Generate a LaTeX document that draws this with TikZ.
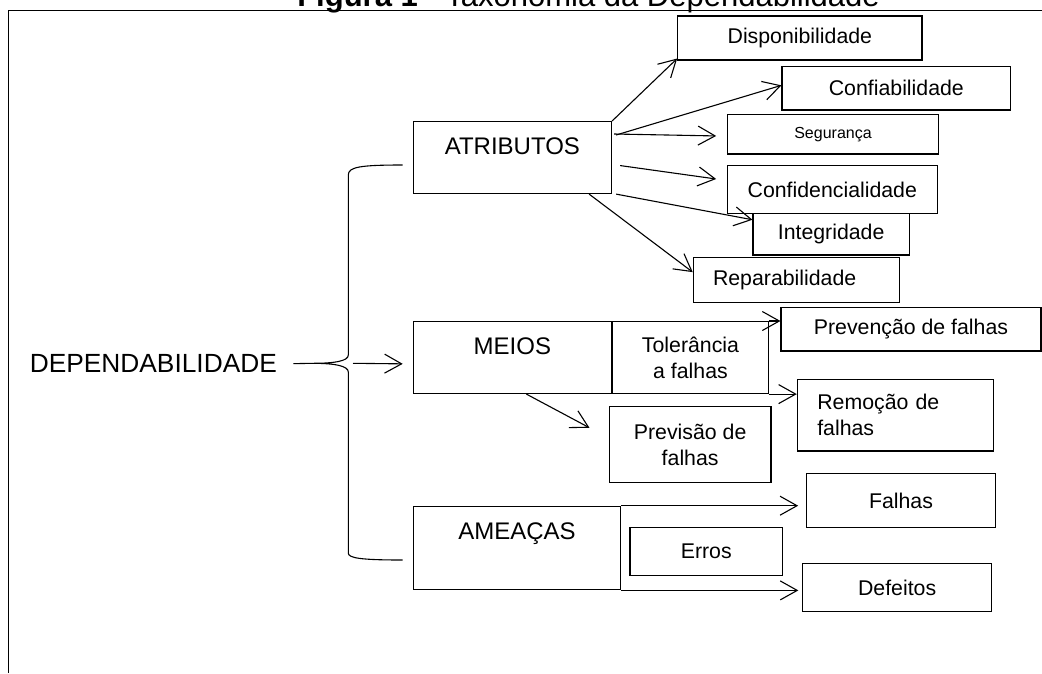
\documentclass[tikz,border=0pt]{standalone}
\usepackage{fontspec}
\setmainfont{Liberation Sans}
\usetikzlibrary{arrows.meta,positioning}

\begin{document}
\begin{tikzpicture}[
    x=1pt, y=-1pt,
    >={Straight Barb[length=17pt,width=19pt]},
    line width=1.1pt,
    b/.style={
        draw,
        inner sep=0pt,
        align=center,
        font=\fontsize{21.3}{26}\selectfont
    },
    hd/.style={
        draw,
        anchor=north west,
        inner xsep=0pt,
        inner ysep=16pt,
        minimum width=198.3pt,
        text height=17.2pt,
        text depth=22.8pt,
        font=\fontsize{24}{28}\selectfont
    }
]
\useasboundingbox (0,0) rectangle (1042,673);

% frame and title
\draw (8.5,673) -- (8.5,10.7) -- (1042,10.7);
\node[anchor=base, inner sep=0pt, font=\fontsize{31}{36}\selectfont] (title) at (588.5,6)
    {\textbf{Figura 1} - Taxonomia da Dependabilidade};

\node[anchor=base west, inner sep=0pt, font=\fontsize{26.3}{30}\selectfont] (dep) at (29.3,372.7)
    {DEPENDABILIDADE};

% main groups
\node[hd] (atr) at (412.7,121) {ATRIBUTOS};
\node[hd] (meios) at (412.7,321) {MEIOS};
\node[hd, minimum width=207pt, text depth=34.4pt] (amea) at (413,505.7) {AMEAÇAS};

% attributes
\node[b, minimum width=244.3pt, minimum height=44pt] (disp) at (799.85,38) {Disponibilidade};
\node[b, minimum width=228.7pt, minimum height=43.3pt] (conf) at (896.35,88.35) {Confiabilidade};
\node[b, minimum width=210.6pt, minimum height=39.7pt, font=\fontsize{16}{19}\selectfont] (seg) at (833,134.15) {Segurança};
\node[b, minimum width=210pt, minimum height=47.6pt] (confid) at (832.3,189.5) {Confidencialidade};
\node[b, minimum width=156.3pt, minimum height=41.7pt] (integ) at (831.15,234.15) {Integridade};
\node[b, inner xsep=19.7pt, text width=166.6pt, align=left, minimum height=44.6pt] (repar) at (796.3,280) {Reparabilidade};

% means
\node[b, right=0pt of meios, minimum width=155.7pt, minimum height=72pt] (tol) {Tolerância\\a falhas};
\node[b, minimum width=260pt, minimum height=43.7pt] (prevf) at (911,329.15) {Prevenção de falhas};
\node[b, inner xsep=20pt, text width=156pt, align=left, minimum height=71.7pt] (remo) at (895.3,415.15) {Remoção de\\falhas};
\node[b, minimum width=161.7pt, minimum height=76pt] (previs) at (690.15,444.7) {Previsão de\\falhas};

% threats
\node[b, minimum width=188.6pt, minimum height=54.4pt] (falhas) at (901,500.5) {Falhas};
\node[b, minimum width=152.5pt, minimum height=47.6pt] (erros) at (706.25,551.5) {Erros};
\node[b, minimum width=188.5pt, minimum height=48pt] (defe) at (897.15,587.7) {Defeitos};

% brace
\coordinate (btop) at (402.7,165);
\coordinate (btip) at (313,363.3);
\coordinate (bbot) at (402.7,560);
\draw (btop) .. controls (360,165) and (348.3,167) .. (348.3,175) -- (348.3,355)
    .. controls (348.3,361) and (335,363.3) .. (btip)
    .. controls (335,363.3) and (348.3,366) .. (348.3,372) -- (348.3,553)
    .. controls (348.3,558) and (360,560) .. (bbot);
\draw ([xshift=16pt]dep.east) -- (btip);
\draw[->] ([xshift=40pt]btip) -- ([shift={(-10,6.3)}]meios.west);

% arrows
\draw[->] (atr.north east) -- ([shift={(0,-2)}]disp.south west);
\draw[->] ([shift={(4,14)}]atr.north east) -- ([shift={(0,-3)}]conf.west);
\draw[->, shorten >=11pt] ([shift={(2,13)}]atr.north east) -- ([shift={(0,2)}]seg.west);
\draw[->] ([shift={(8,8)}]atr.east) -- ([shift={(-10.6,-10.5)}]confid.west);
\draw[->] ([shift={(4,0)}]atr.south east) -- ([shift={(0,7)}]integ.north west);
\draw[->] ([shift={(-23,0)}]atr.south east) -- ([shift={(0,15)}]repar.north west);

\draw[->] (tol.north east) -- (tol.north east -| prevf.west);
\draw[->] (tol.south east) -- (tol.south east -| remo.west);
\draw[->] ([shift={(14,0)}]meios.south) -- ([shift={(-19.3,21.6)}]previs.north west);

\draw[->, shorten >=8pt] (amea.north east) -- (amea.north east -| falhas.west);
\draw[->, shorten >=4pt] (amea.south east) -- (amea.south east -| defe.west);

\end{tikzpicture}
\end{document}
